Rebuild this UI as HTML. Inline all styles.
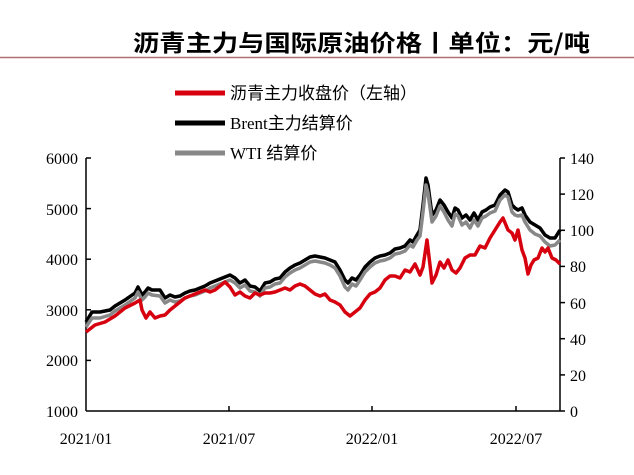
<!DOCTYPE html>
<html><head><meta charset="utf-8"><style>
body{margin:0;background:#fff;}
svg{display:block;font-family:"Liberation Serif","Noto Serif CJK SC",serif;}
.cjk{font-family:"Liberation Serif","Noto Sans CJK SC",sans-serif;}
</style></head><body>
<svg width="634" height="475" viewBox="0 0 634 475">
<text x="133" y="51" font-size="23" font-weight="bold" style="font-family:'Noto Sans CJK SC',sans-serif" textLength="457" lengthAdjust="spacingAndGlyphs" fill="#000">沥青主力与国际原油价格丨单位：元/吨</text>
<line x1="0" y1="57.5" x2="634" y2="57.5" stroke="#b07070" stroke-width="1.5"/>
<g font-size="17" class="cjk">
<line x1="175" y1="93" x2="225" y2="93" stroke="#d7000f" stroke-width="5"/>
<text x="230" y="99">沥青主力收盘价（左轴）</text>
<line x1="175" y1="123" x2="225" y2="123" stroke="#000" stroke-width="5"/>
<text x="230" y="129">Brent主力结算价</text>
<line x1="175" y1="153" x2="225" y2="153" stroke="#888" stroke-width="5"/>
<text x="230" y="159">WTI 结算价</text>
</g>
<g stroke="#000" stroke-width="1.5" fill="none">
<line x1="86" y1="158" x2="86" y2="411"/>
<line x1="86" y1="411" x2="560" y2="411"/>
<line x1="560" y1="158" x2="560" y2="411"/>
<line x1="86" y1="158" x2="91" y2="158"/><line x1="86" y1="208.6" x2="91" y2="208.6"/><line x1="86" y1="259.2" x2="91" y2="259.2"/><line x1="86" y1="309.8" x2="91" y2="309.8"/><line x1="86" y1="360.4" x2="91" y2="360.4"/>
<line x1="560" y1="158" x2="565" y2="158"/><line x1="560" y1="194.1" x2="565" y2="194.1"/><line x1="560" y1="230.3" x2="565" y2="230.3"/><line x1="560" y1="266.4" x2="565" y2="266.4"/><line x1="560" y1="302.6" x2="565" y2="302.6"/><line x1="560" y1="338.7" x2="565" y2="338.7"/><line x1="560" y1="374.9" x2="565" y2="374.9"/><line x1="560" y1="411" x2="565" y2="411"/>
<line x1="229" y1="411" x2="229" y2="406"/><line x1="372" y1="411" x2="372" y2="406"/><line x1="516" y1="411" x2="516" y2="406"/>
</g>
<g font-size="16" fill="#000">
<g text-anchor="end"><text x="78" y="164">6000</text><text x="78" y="215">5000</text><text x="78" y="265">4000</text><text x="78" y="316">3000</text><text x="78" y="366">2000</text><text x="78" y="417">1000</text></g>
<g><text x="570" y="164">140</text><text x="570" y="200">120</text><text x="570" y="236">100</text><text x="570" y="272">80</text><text x="570" y="309">60</text><text x="570" y="345">40</text><text x="570" y="381">20</text><text x="570" y="417">0</text></g>
<g text-anchor="middle"><text x="86" y="444">2021/01</text><text x="229" y="444">2021/07</text><text x="372" y="444">2022/01</text><text x="516" y="444">2022/07</text></g>
</g>
<g fill="none" stroke-width="3.5" stroke-linejoin="round">
<polyline stroke="#000" points="86,322 92,312 100,312 110,310 115,306 125,300 135,293 138,287 142,295 145,292 148,288 152,290 160,290 165,298 170,295 175,297 180,296 185,293 190,291 195,290 200,288 205,286 210,283 215,281 220,279 225,277 230,275 235,278 240,283 245,280 250,286 255,287 260,291 265,283 270,282 275,279 280,278 285,272 290,268 295,265 300,263 305,260 310,257 315,256 320,257 325,258 330,260 335,262 340,270 345,280 348,283 352,278 356,280 360,275 365,267 370,262 375,258 380,256 385,255 390,253 395,249 400,248 405,246 410,240 413,242 417,235 420,230 423,205 426,178 428,185 432,215 436,210 440,200 444,205 448,212 452,218 455,208 458,210 462,218 466,215 470,220 474,213 478,220 482,212 486,210 490,207 495,205 500,195 505,190 508,192 512,205 515,208 518,210 522,208 525,215 530,222 535,225 540,228 545,235 550,238 555,238 560,230"/>
<polyline stroke="#888" points="86,327 92,318 100,318 110,315 115,311 125,305 135,298 138,292 142,300 145,297 148,293 152,295 160,296 165,303 170,300 175,302 180,301 185,298 190,296 195,295 200,293 205,291 210,288 215,286 220,284 225,282 230,280 235,283 240,288 245,285 250,291 255,292 260,296 265,288 270,287 275,284 280,283 285,277 290,273 295,270 300,268 305,265 310,262 315,261 320,262 325,263 330,265 335,268 340,276 345,287 348,290 352,284 356,286 360,280 365,272 370,267 375,263 380,261 385,260 390,258 395,254 400,253 405,251 410,245 413,247 417,240 420,236 423,212 426,185 428,193 432,222 436,216 440,206 444,212 448,220 452,226 455,214 458,216 462,225 466,222 470,228 474,220 478,226 482,218 486,216 490,213 495,211 500,200 505,195 508,197 512,212 515,215 518,216 522,215 525,222 530,230 535,234 540,236 545,242 550,246 555,245 560,240"/>
<polyline stroke="#d7000f" points="86,332 95,325 105,322 115,316 125,308 135,303 140,300 142,310 146,318 150,312 155,318 160,316 165,315 170,310 175,306 180,302 185,298 190,296 195,294 200,292 205,290 210,292 215,290 225,282 230,287 235,295 240,292 245,296 250,298 255,293 260,295 265,293 270,293 275,292 280,290 285,288 290,290 295,286 300,284 305,286 310,290 315,294 320,296 325,294 330,300 335,302 340,305 345,312 350,316 355,312 360,308 365,300 370,294 375,292 380,288 385,280 390,276 395,276 400,278 405,270 410,272 415,264 420,275 423,267 427,240 430,265 432,283 436,275 440,262 444,268 448,260 452,270 456,273 460,268 465,258 470,255 475,255 480,246 485,248 490,238 495,230 500,222 503,218 508,230 512,233 515,240 518,230 522,250 525,258 528,274 531,265 534,260 538,258 542,248 545,252 548,248 552,258 556,260 560,264"/>
</g>
</svg>
</body></html>
